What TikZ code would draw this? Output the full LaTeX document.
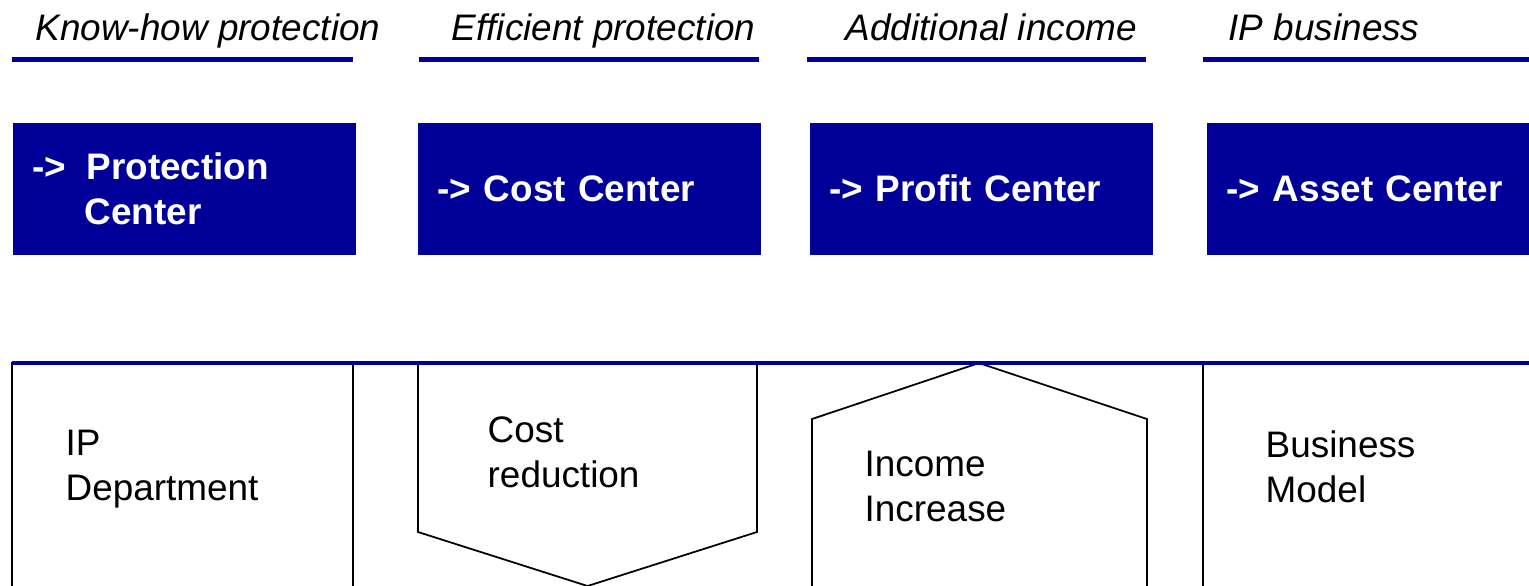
\documentclass[tikz,border=0pt]{standalone}
\usepackage{fontspec}
\setmainfont{Liberation Sans}
\usetikzlibrary{positioning}
\definecolor{IP_Blue}{HTML}{000099}

\begin{document}
\begin{tikzpicture}[
    phase/.style={font=\fontsize{10.5}{12.6}\selectfont\itshape, anchor=base west, inner sep=0pt},
    phasebar/.style={IP_Blue, line width=0.05cm},
    centerbox/.style={fill=IP_Blue, text=white, font=\fontsize{10.5}{12.6}\selectfont\bfseries,
        anchor=north west, minimum width=3.43cm, minimum height=1.32cm,
        inner xsep=0.2cm, inner ysep=0pt, text width=3.03cm, align=left},
    field/.style={draw=black, line width=0.5pt, fill=white},
    fieldtext/.style={font=\fontsize{10.5}{12.6}\selectfont, anchor=base west, inner sep=0pt, align=left}
]
    \useasboundingbox (0,0) rectangle (15.29,-5.85);
    \clip (0,0) rectangle (15.29,-5.85);

    % Phase headings with their bars
    \node[phase] (know) at (0.35,-0.40) {Know-how protection};
    \node[phase] (effic) at (4.51,-0.40) {Efficient protection};
    \node[phase] (addinc) at (8.45,-0.40) {Additional income};
    \node[phase] (ipbus) at (12.28,-0.40) {IP business};

    \draw[phasebar] (0.12,-0.595) -- (3.53,-0.595);
    \draw[phasebar] (4.19,-0.595) -- (7.59,-0.595);
    \draw[phasebar] (8.07,-0.595) -- (11.46,-0.595);
    \draw[phasebar] (12.03,-0.595) -- (15.29,-0.595);

    % Center boxes
    \node[centerbox] (protc) at (0.12,-1.22) {->\hspace{0.2cm}Protection\\\hspace{0.52cm}Center};
    \node[centerbox] (costc) at (4.17,-1.22) {-> Cost Center};
    \node[centerbox] (profc) at (8.09,-1.22) {-> Profit Center};
    \node[centerbox] (assetc) at (12.06,-1.22) {-> Asset Center};

    % Fields below the base line
    \draw[field] (0.12,-5.95) -- (0.12,-3.63) -- (3.53,-3.63) -- (3.53,-5.95);
    \draw[field] (4.18,-3.63) -- (7.57,-3.63) -- (7.57,-5.32) -- (5.875,-5.86) -- (4.18,-5.32) -- cycle;
    \draw[field] (8.12,-5.95) -- (8.12,-4.19) -- (9.79,-3.63) -- (11.47,-4.19) -- (11.47,-5.95);
    \draw[field] (12.03,-5.95) -- (12.03,-3.63) -- (15.40,-3.63);

    % Base line
    \draw[IP_Blue, line width=0.04cm] (0.12,-3.625) -- (15.29,-3.625);

    % anchor is the baseline of the last line
    \node[fieldtext] (ipdep) at (0.65,-5.00) {IP\\Department};
    \node[fieldtext] (costred) at (4.87,-4.87) {Cost\\reduction};
    \node[fieldtext] (incinc) at (8.64,-5.21) {Income\\Increase};
    \node[fieldtext] (busmod) at (12.65,-5.02) {Business\\Model};

\end{tikzpicture}
\end{document}
